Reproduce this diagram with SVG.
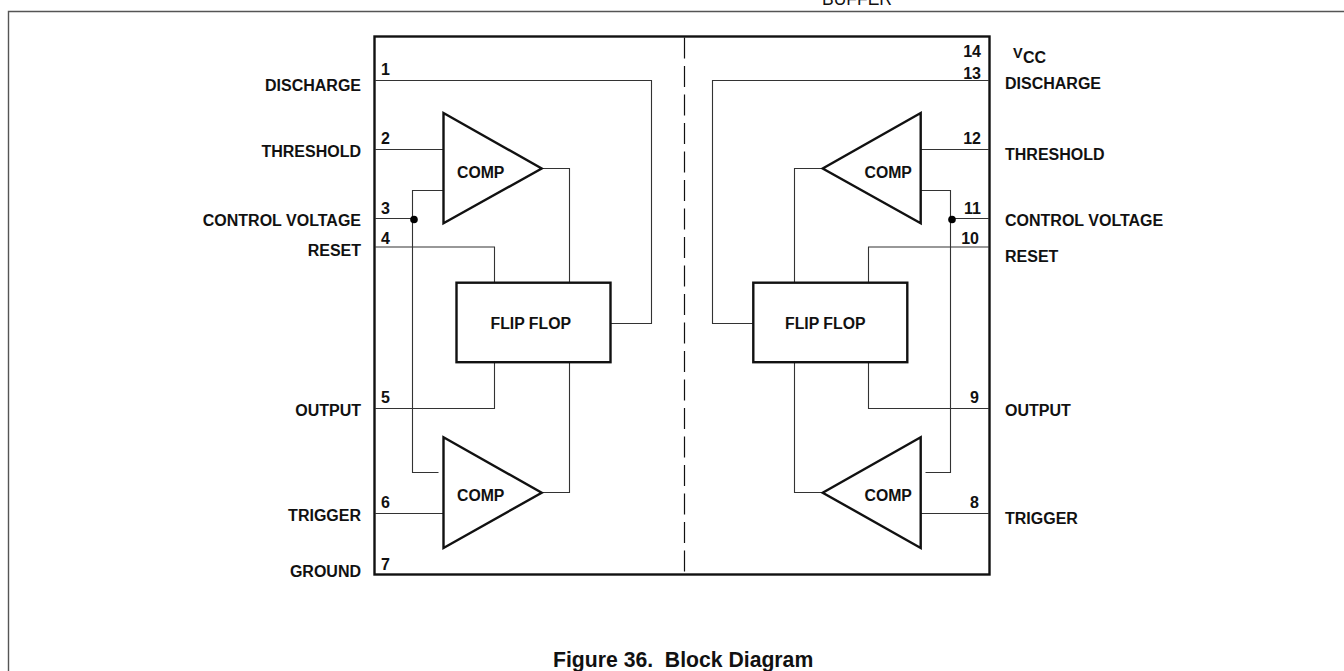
<svg xmlns="http://www.w3.org/2000/svg" width="1344" height="671" viewBox="0 0 1344 671">
<defs><style>
text{font-family:"Liberation Sans",Arial,sans-serif;font-weight:bold;font-size:16px;fill:#111}
.e{text-anchor:end}
.i{font-size:15.8px}
.w{fill:none;stroke:#333;stroke-width:1.1}
.b{fill:#fff;stroke:#111;stroke-width:2.4;stroke-linejoin:miter}
</style></defs>
<rect width="1344" height="671" fill="#fff"/>
<text x="822" y="5" style="font-weight:normal;font-size:17.5px">BUFFER</text>
<path d="M8.5 671V11.5H1344" fill="none" stroke="#555" stroke-width="1.4"/>
<g id="package"><rect x="374.5" y="36.5" width="615" height="538" fill="none" stroke="#111" stroke-width="2.4"/></g>
<g id="connectors">
<path class="w" d="M684.5 37.5V574" stroke-dasharray="21 7.5" style="stroke:#111;stroke-width:1.2"/>
<path class="w" d="M375 80.5H651.5V323.5H611"/>
<path class="w" d="M375 149.5H443"/>
<path class="w" d="M542 168.5H569.5V283"/>
<path class="w" d="M443 190.5H412.5V472.5H438.5"/>
<path class="w" d="M375 218.5H414"/>
<path class="w" d="M375 247H494.5V283"/>
<path class="w" d="M375 408.5H494.5V362"/>
<path class="w" d="M569.5 362V492.5H542"/>
<path class="w" d="M375 513.5H443"/>
<path class="w" d="M989 80.5H712.5V323.5H753"/>
<path class="w" d="M989 149.5H921"/>
<path class="w" d="M822 168.5H794.5V283"/>
<path class="w" d="M921 190.5H950.5V472.5H925.5"/>
<path class="w" d="M989 218.5H952"/>
<path class="w" d="M989 247H868.5V283"/>
<path class="w" d="M989 408.5H868.5V362"/>
<path class="w" d="M794.5 362V492.5H822"/>
<path class="w" d="M989 513.5H921"/>
<circle cx="414" cy="219.5" r="3.8" fill="#000"/>
<circle cx="952" cy="219.5" r="3.8" fill="#000"/>
</g>
<g id="comp1"><polygon class="b" points="443.5,113 541.7,168.5 443.5,223.3"/><text class="i" x="457" y="178">COMP</text></g>
<g id="comp2"><polygon class="b" points="443.5,437.3 541.7,492.7 443.5,548"/><text class="i" x="457" y="500.5">COMP</text></g>
<g id="comp3"><polygon class="b" points="920.7,113 822.7,168.5 920.7,223.3"/><text class="i" x="864.5" y="178">COMP</text></g>
<g id="comp4"><polygon class="b" points="920.7,437.3 822.7,492.7 920.7,548"/><text class="i" x="864.5" y="500.5">COMP</text></g>
<g id="flipflop1"><rect class="b" x="456.5" y="282.7" width="154" height="79.5"/><text class="i" x="490.5" y="328.7">FLIP FLOP</text></g>
<g id="flipflop2"><rect class="b" x="753.3" y="282.7" width="154" height="79.5"/><text class="i" x="785" y="328.7">FLIP FLOP</text></g>
<g id="pins-left">
<text x="381" y="75">1</text><text x="381" y="144">2</text><text x="381" y="214">3</text><text x="381" y="244">4</text><text x="381" y="403">5</text><text x="381" y="508">6</text><text x="381" y="570">7</text>
<text class="e" x="361" y="91">DISCHARGE</text><text class="e" x="361" y="157">THRESHOLD</text><text class="e" x="361" y="226">CONTROL VOLTAGE</text><text class="e" x="361" y="255.5">RESET</text><text class="e" x="361" y="416">OUTPUT</text><text class="e" x="361" y="521">TRIGGER</text><text class="e" x="361" y="577">GROUND</text>
</g>
<g id="pins-right">
<text class="e" x="981" y="57">14</text><text class="e" x="981" y="78.5">13</text><text class="e" x="981" y="144">12</text><text class="e" x="981" y="214">11</text><text class="e" x="979" y="244">10</text><text class="e" x="979" y="403">9</text><text class="e" x="979" y="508">8</text>
<text x="1013" y="57.5" style="font-size:14.5px">V</text><text x="1023" y="63">CC</text>
<text x="1005" y="88.5">DISCHARGE</text><text x="1005" y="160">THRESHOLD</text><text x="1005" y="226">CONTROL VOLTAGE</text><text x="1005" y="262">RESET</text><text x="1005" y="416">OUTPUT</text><text x="1005" y="524">TRIGGER</text>
</g>
<text x="553" y="667" style="font-size:21.2px">Figure 36.&#160; Block Diagram</text>
</svg>
